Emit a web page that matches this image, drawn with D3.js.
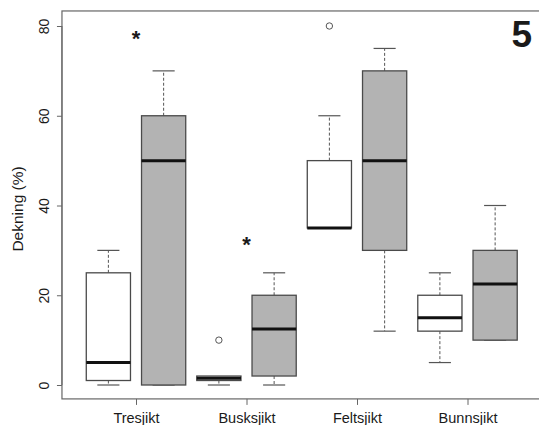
<!DOCTYPE html>
<html>
<head>
<meta charset="utf-8">
<script src="https://cdn.jsdelivr.net/npm/d3@7"></script>
<style>
  body { margin: 0; background: #fff; }
  text { font-family: "Liberation Sans", Arial, sans-serif; fill: #1a1a1a; }
</style>
</head>
<body>
<div id="chart"></div>
<script>
// categories on the x axis
var categories = ["Tresjikt", "Busksjikt", "Feltsjikt", "Bunnsjikt"];

// box stats per category: [lower whisker, q1, median, q3, upper whisker]
var whiteStats = [
  [0, 1, 5, 25, 30],
  [0, 1, 1.5, 2, 2],
  [35, 35, 35, 50, 60],
  [5, 12, 15, 20, 25]
];
var greyStats = [
  [0, 0, 50, 60, 70],
  [0, 2, 12.5, 20, 25],
  [12, 30, 50, 70, 75],
  [10, 10, 22.5, 30, 40]
];

// outliers (only white boxes have them)
var whiteOutliers = [[], [10], [80], []];

// significance stars: category index and height
var starCats = [0, 1];
var starValues = [78, 32];

var yTicks = [0, 20, 40, 60, 80];

var width = 539, height = 425;

// category i (1..4) -> pixel
let x = d3.scaleLinear().domain([1, 4]).range([136, 467.5]);
let y = d3.scaleLinear().domain([0, 80]).range([385, 26]);

let frameLeft = x(0.33), frameRight = x(4.68);
let frameTop = y(83.35), frameBottom = y(-3.1);

let svg = d3.select("#chart").append("svg")
    .attr("width", width)
    .attr("height", height);

// plot frame
svg.append("rect")
    .attr("x", frameLeft)
    .attr("y", frameTop)
    .attr("width", frameRight - frameLeft)
    .attr("height", frameBottom - frameTop)
    .attr("fill", "none")
    .attr("stroke", "#666")
    .attr("stroke-width", 1.2);

// y axis
let yAxis = svg.append("g")
    .attr("transform", "translate(" + frameLeft + ",0)")
    .call(d3.axisLeft(y).tickValues(yTicks).tickSize(5).tickPadding(0).tickFormat(d3.format("d")));
yAxis.select(".domain")
    .attr("d", "M0," + y(0) + "V" + y(80))
    .attr("stroke", "#666");
yAxis.selectAll(".tick line").attr("stroke", "#666");
yAxis.selectAll(".tick text")
    .attr("x", null).attr("dy", null)
    .attr("transform", "translate(-13,0) rotate(-90)")
    .attr("text-anchor", "middle")
    .attr("y", 0)
    .style("font-size", "14px")
    .style("font-family", "Liberation Sans, Arial, sans-serif")
    .attr("fill", "#1a1a1a");

// x axis
let xAxis = svg.append("g")
    .attr("transform", "translate(0," + frameBottom + ")")
    .call(d3.axisBottom(x).tickValues([1, 2, 3, 4]).tickSize(6).tickPadding(8)
        .tickFormat(d => categories[d - 1]));
xAxis.select(".domain").remove();
xAxis.selectAll(".tick line").attr("stroke", "#666");
xAxis.selectAll(".tick text")
    .style("font-size", "14.5px")
    .style("font-family", "Liberation Sans, Arial, sans-serif")
    .attr("fill", "#1a1a1a");

// y label
svg.append("text")
    .attr("transform", "translate(23," + ((frameTop + frameBottom) / 2 + 4) + ") rotate(-90)")
    .attr("text-anchor", "middle")
    .style("font-size", "15.5px")
    .text("Dekning (%)");

// boxes
let boxWidth = x(1.4) - x(1);
let boxData = [];
whiteStats.forEach((s, i) => boxData.push({ pos: i + 1 - 0.25, s: s, fill: "#ffffff" }));
greyStats.forEach((s, i) => boxData.push({ pos: i + 1 + 0.25, s: s, fill: "#b3b3b3" }));

let boxes = svg.append("g").selectAll("g")
    .data(boxData)
    .enter().append("g");

// whiskers
boxes.append("line")
    .attr("x1", d => x(d.pos)).attr("x2", d => x(d.pos))
    .attr("y1", d => y(d.s[3])).attr("y2", d => y(d.s[4]))
    .attr("stroke", "#555").attr("stroke-width", 1).attr("stroke-dasharray", "3,2");
boxes.append("line")
    .attr("x1", d => x(d.pos)).attr("x2", d => x(d.pos))
    .attr("y1", d => y(d.s[1])).attr("y2", d => y(d.s[0]))
    .attr("stroke", "#555").attr("stroke-width", 1).attr("stroke-dasharray", "3,2");

// caps
[0, 4].forEach(k => {
    boxes.filter(d => d.s[k] != (k == 0 ? d.s[1] : d.s[3]) || k == 0)
        .append("line")
        .attr("x1", d => x(d.pos) - boxWidth / 4).attr("x2", d => x(d.pos) + boxWidth / 4)
        .attr("y1", d => y(d.s[k])).attr("y2", d => y(d.s[k]))
        .attr("stroke", "#555").attr("stroke-width", 1.2);
});

boxes.append("rect")
    .attr("x", d => x(d.pos) - boxWidth / 2)
    .attr("width", boxWidth)
    .attr("y", d => y(d.s[3]))
    .attr("height", d => y(d.s[1]) - y(d.s[3]))
    .attr("fill", d => d.fill)
    .attr("stroke", "#4a4a4a")
    .attr("stroke-width", 1.3);

// medians
boxes.append("line")
    .attr("x1", d => x(d.pos) - boxWidth / 2).attr("x2", d => x(d.pos) + boxWidth / 2)
    .attr("y1", d => y(d.s[2])).attr("y2", d => y(d.s[2]))
    .attr("stroke", "#111").attr("stroke-width", 3);

// outliers
whiteOutliers.forEach((arr, i) => {
    svg.append("g").selectAll("circle")
        .data(arr)
        .enter().append("circle")
        .attr("cx", x(i + 1 - 0.25))
        .attr("cy", d => y(d))
        .attr("r", 3.2)
        .attr("fill", "none")
        .attr("stroke", "#555")
        .attr("stroke-width", 1);
});

// stars
svg.append("g").selectAll("text")
    .data(starCats)
    .enter().append("text")
    .attr("x", d => x(d + 1))
    .attr("y", (d, i) => y(starValues[i]) + 11)
    .attr("text-anchor", "middle")
    .style("font-size", "22px")
    .style("font-weight", "bold")
    .text("*");

// panel number
svg.append("text")
    .attr("x", 532)
    .attr("y", 47)
    .attr("text-anchor", "end")
    .style("font-size", "37px")
    .style("font-weight", "bold")
    .text("5");
</script>
</body>
</html>
